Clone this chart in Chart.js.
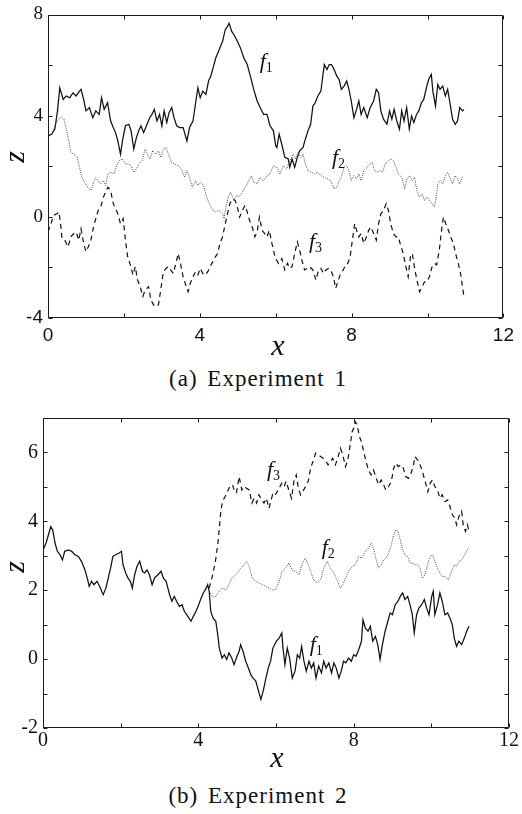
<!DOCTYPE html>
<html><head><meta charset="utf-8">
<script src="https://cdn.jsdelivr.net/npm/chart.js@4/dist/chart.umd.min.js"></script>
<style>
html,body{margin:0;padding:0;background:#fff}
body{width:522px;height:814px;position:relative;overflow:hidden}
.wrap{position:absolute;left:0}
.cap{position:absolute;left:0;width:522px;text-align:center;font-family:"Liberation Serif","Times New Roman",Times,serif;font-size:23px;line-height:26px;color:#111;letter-spacing:1px;word-spacing:3px;white-space:nowrap;box-sizing:border-box;padding-right:6px}
</style></head>
<body>
<div class="wrap" style="top:0"><canvas id="ca" width="522" height="360"></canvas></div>
<div class="cap" style="top:366px">(a) Experiment 1</div>
<div class="wrap" style="top:400px"><canvas id="cb" width="522" height="372"></canvas></div>
<div class="cap" style="top:783px">(b) Experiment 2</div>
<script>
// ---------- data (x, z) ----------
const expA_f1 = [[0,3.2],[0.1,3.27],[0.18,3.47],[0.25,4.19],[0.31,5.1],[0.4,4.64],[0.48,4.78],[0.57,4.71],[0.66,4.9],[0.74,4.78],
[0.83,4.97],[0.87,5.04],[0.94,4.64],[1.0,4.19],[1.09,4.32],[1.18,3.92],[1.26,4.19],[1.35,4.05],[1.41,4.71],[1.48,4.25],
[1.57,4.51],[1.65,3.79],[1.72,3.53],[1.78,3.33],[1.84,3.0],[1.91,2.48],[1.97,3.07],[2.04,3.6],[2.13,3.66],[2.19,3.4],
[2.26,2.68],[2.33,3.14],[2.39,3.4],[2.45,3.6],[2.52,3.33],[2.61,3.66],[2.68,3.92],[2.74,4.05],[2.8,4.25],[2.87,3.79],
[2.94,4.05],[3.0,3.6],[3.06,4.19],[3.13,3.73],[3.19,4.12],[3.26,4.32],[3.32,3.92],[3.39,3.6],[3.47,3.53],[3.56,3.53],
[3.66,3.0],[3.73,3.53],[3.82,3.79],[3.89,4.51],[3.95,5.1],[4.01,4.71],[4.08,4.97],[4.16,4.84],[4.23,5.37],[4.29,5.57],
[4.35,5.89],[4.42,6.28],[4.51,6.61],[4.6,6.94],[4.67,7.4],[4.73,7.53],[4.77,7.66],[4.84,7.33],[4.9,7.2],[4.99,6.94],
[5.07,6.68],[5.16,6.28],[5.25,6.02],[5.33,5.57],[5.42,5.04],[5.51,4.58],[5.59,4.32],[5.68,4.05],[5.77,4.05],[5.85,3.6],
[5.94,3.4],[6.0,2.81],[6.03,2.74],[6.09,3.27],[6.16,2.87],[6.24,2.35],[6.33,2.29],[6.37,1.96],[6.43,2.29],[6.5,1.96],
[6.57,2.35],[6.63,2.61],[6.72,2.74],[6.78,3.07],[6.85,3.4],[6.92,3.66],[6.98,4.38],[7.04,4.51],[7.11,4.78],[7.19,4.97],
[7.24,5.56],[7.28,6.02],[7.35,5.82],[7.41,6.02],[7.47,6.02],[7.54,5.82],[7.61,5.56],[7.67,5.43],[7.73,5.04],[7.8,5.17],
[7.87,5.37],[7.93,5.04],[7.99,4.58],[8.06,3.92],[8.13,4.25],[8.19,4.58],[8.25,4.05],[8.32,4.32],[8.41,3.92],[8.49,4.32],
[8.58,4.58],[8.65,5.04],[8.71,4.91],[8.77,4.19],[8.84,3.86],[8.93,3.66],[9.0,4.19],[9.06,3.86],[9.12,4.25],[9.19,3.79],
[9.26,3.47],[9.32,4.19],[9.38,3.79],[9.45,4.32],[9.52,3.47],[9.58,3.99],[9.64,3.73],[9.71,4.05],[9.77,4.19],[9.84,4.51],
[9.9,4.64],[9.97,5.1],[10.03,5.43],[10.1,5.63],[10.14,4.97],[10.21,4.38],[10.27,5.23],[10.33,5.04],[10.4,5.17],[10.47,4.78],
[10.53,5.04],[10.59,4.51],[10.66,3.86],[10.73,3.66],[10.79,3.79],[10.85,4.32],[10.92,4.19],[10.96,4.25]];

const expA_f2 = [[0,3.14],[0.1,3.27],[0.18,3.6],[0.27,3.86],[0.35,3.95],[0.42,3.86],[0.48,3.47],[0.55,3.0],[0.6,2.55],[0.68,2.48],
[0.77,2.35],[0.83,1.96],[0.89,1.56],[0.96,1.37],[1.05,1.17],[1.13,1.04],[1.2,1.37],[1.26,1.56],[1.32,1.43],[1.39,1.3],
[1.46,1.43],[1.52,1.24],[1.58,1.7],[1.65,1.76],[1.74,1.7],[1.81,2.02],[1.87,2.22],[1.96,2.29],[2.04,2.09],[2.13,2.09],
[2.19,2.02],[2.26,1.76],[2.33,1.89],[2.39,2.09],[2.48,2.22],[2.56,2.68],[2.62,2.48],[2.69,2.29],[2.76,2.61],[2.85,2.48],
[2.91,2.61],[2.97,2.35],[3.04,2.68],[3.11,2.74],[3.17,2.48],[3.26,2.15],[3.34,2.09],[3.43,2.02],[3.52,1.89],[3.6,1.56],
[3.66,1.83],[3.73,1.56],[3.8,1.17],[3.89,1.43],[3.95,1.24],[4.01,1.37],[4.1,1.24],[4.18,0.78],[4.25,0.52],[4.34,0.26],
[4.42,0.19],[4.51,0.26],[4.6,0.13],[4.64,-0.07],[4.68,0.32],[4.75,0.78],[4.81,0.98],[4.9,0.65],[4.97,0.85],[5.03,0.78],
[5.12,0.98],[5.2,1.17],[5.29,1.43],[5.36,1.63],[5.42,1.37],[5.51,1.3],[5.59,1.56],[5.68,1.43],[5.77,1.63],[5.85,1.7],
[5.94,2.02],[6.0,1.96],[6.03,1.96],[6.11,1.7],[6.2,2.02],[6.29,1.89],[6.37,2.22],[6.46,2.48],[6.52,2.29],[6.59,2.55],
[6.66,2.35],[6.72,2.48],[6.78,2.09],[6.85,1.83],[6.94,1.76],[7.02,1.7],[7.11,1.76],[7.19,1.63],[7.28,1.56],[7.37,1.5],
[7.45,1.43],[7.54,1.11],[7.61,1.17],[7.67,1.43],[7.73,1.56],[7.8,1.96],[7.87,2.02],[7.93,1.83],[7.99,1.43],[8.06,1.63],
[8.13,1.5],[8.19,1.7],[8.25,1.43],[8.32,1.83],[8.41,1.96],[8.48,2.09],[8.54,2.15],[8.6,1.83],[8.67,1.76],[8.75,1.83],
[8.82,1.76],[8.88,2.09],[8.97,2.22],[9.03,2.29],[9.1,2.22],[9.17,1.96],[9.23,1.7],[9.32,1.56],[9.4,1.11],[9.46,1.5],
[9.53,1.63],[9.6,1.43],[9.66,1.56],[9.72,1.04],[9.79,0.78],[9.86,0.91],[9.92,0.65],[9.98,0.78],[10.05,0.65],[10.12,0.52],
[10.18,0.39],[10.23,0.78],[10.27,1.3],[10.33,1.43],[10.4,1.3],[10.47,1.63],[10.53,1.76],[10.59,1.56],[10.66,1.3],[10.73,1.63],
[10.79,1.5],[10.85,1.3],[10.92,1.56],[10.96,1.56]];

const expA_f3 = [[0,-0.6],[0.08,-0.27],[0.14,0.05],[0.23,0.12],[0.29,0.19],[0.34,-0.4],[0.37,-0.86],[0.44,-0.92],[0.53,-1.19],[0.6,-0.79],
[0.68,-0.66],[0.74,-0.6],[0.81,-0.92],[0.87,-0.47],[0.94,-1.05],[1.0,-1.38],[1.06,-1.19],[1.13,-0.92],[1.2,-0.4],[1.26,-0.07],
[1.32,0.25],[1.39,0.38],[1.46,0.78],[1.52,0.98],[1.58,1.17],[1.65,1.04],[1.72,0.52],[1.78,0.32],[1.84,0.12],[1.91,-0.27],
[1.98,-0.07],[2.04,-0.92],[2.1,-1.58],[2.17,-1.9],[2.24,-2.3],[2.3,-1.97],[2.36,-2.5],[2.43,-2.76],[2.5,-3.15],[2.56,-2.89],
[2.65,-2.76],[2.71,-3.28],[2.78,-3.48],[2.85,-3.55],[2.91,-3.48],[2.97,-2.89],[3.04,-2.17],[3.11,-2.04],[3.17,-1.97],[3.23,-2.1],
[3.3,-2.24],[3.37,-1.84],[3.43,-1.45],[3.49,-1.84],[3.56,-2.37],[3.63,-2.7],[3.69,-2.96],[3.75,-2.63],[3.82,-2.37],[3.89,-2.17],
[3.95,-2.3],[4.01,-2.04],[4.08,-2.24],[4.15,-2.3],[4.21,-2.17],[4.27,-1.97],[4.34,-1.78],[4.41,-1.58],[4.47,-1.45],[4.53,-1.05],
[4.6,-0.79],[4.67,-0.27],[4.73,0.12],[4.79,0.52],[4.86,0.71],[4.93,0.65],[4.99,0.38],[5.05,-0.01],[5.12,0.25],[5.19,0.45],
[5.25,0.19],[5.31,-0.14],[5.38,-0.4],[5.45,-0.79],[5.51,-0.6],[5.57,-0.01],[5.64,-0.53],[5.71,-0.66],[5.77,-0.79],[5.83,-0.53],
[5.9,-1.05],[5.98,-1.58],[6.07,-1.84],[6.16,-1.65],[6.24,-2.1],[6.31,-1.84],[6.37,-2.04],[6.43,-1.97],[6.5,-1.45],[6.57,-0.99],
[6.63,-1.32],[6.69,-1.71],[6.76,-2.1],[6.83,-2.04],[6.89,-1.97],[6.98,-2.1],[7.06,-2.5],[7.13,-2.1],[7.19,-2.04],[7.26,-2.24],
[7.32,-2.1],[7.39,-2.04],[7.45,-2.1],[7.52,-2.37],[7.58,-2.83],[7.65,-2.5],[7.71,-2.24],[7.78,-2.1],[7.84,-1.9],[7.9,-1.84],
[7.96,-1.58],[8.02,-0.92],[8.08,-0.27],[8.13,-0.53],[8.19,-0.79],[8.25,-0.66],[8.32,-1.05],[8.39,-0.79],[8.45,-0.53],[8.51,-0.4],
[8.58,-0.66],[8.65,-0.92],[8.71,-0.27],[8.77,0.12],[8.84,0.25],[8.91,0.52],[8.97,0.25],[9.03,-0.27],[9.1,-0.66],[9.17,-0.79],
[9.23,-0.79],[9.29,-1.12],[9.36,-1.45],[9.43,-1.97],[9.49,-2.37],[9.55,-1.58],[9.6,-1.45],[9.66,-2.04],[9.72,-2.5],[9.79,-2.96],
[9.86,-2.76],[9.92,-2.57],[9.98,-2.57],[10.05,-2.37],[10.12,-1.97],[10.18,-1.84],[10.24,-1.9],[10.31,-1.32],[10.38,-0.4],[10.42,-0.01],
[10.48,-0.27],[10.55,-0.53],[10.61,-0.79],[10.68,-1.05],[10.75,-1.51],[10.81,-1.84],[10.87,-2.24],[10.92,-2.76],[10.96,-3.15]];

const expB_f1 = [[0,3.17],[0.08,3.37],[0.14,3.61],[0.2,3.85],[0.25,3.75],[0.31,3.37],[0.37,3.13],[0.44,3.03],[0.5,2.88],[0.56,3.13],
[0.65,3.17],[0.74,3.13],[0.82,3.03],[0.91,2.98],[0.99,2.84],[1.08,2.59],[1.14,2.35],[1.19,2.11],[1.25,2.26],[1.31,2.16],
[1.39,2.26],[1.46,2.11],[1.55,1.87],[1.62,2.06],[1.68,2.35],[1.74,2.64],[1.8,2.98],[1.87,3.03],[1.96,3.08],[2.02,3.13],
[2.06,2.74],[2.13,2.5],[2.19,2.35],[2.25,2.26],[2.3,2.06],[2.36,2.45],[2.42,2.69],[2.49,2.84],[2.56,2.55],[2.62,2.5],
[2.68,2.59],[2.74,2.45],[2.81,2.16],[2.87,2.35],[2.96,2.45],[3.04,2.55],[3.1,2.35],[3.17,2.26],[3.26,1.87],[3.32,1.68],
[3.38,1.82],[3.44,1.68],[3.51,1.53],[3.58,1.58],[3.64,1.39],[3.73,1.24],[3.81,1.1],[3.87,1.24],[3.94,1.39],[4.01,1.58],
[4.07,1.77],[4.13,1.92],[4.2,2.06],[4.24,2.16],[4.28,1.97],[4.32,1.39],[4.38,1.19],[4.45,1.1],[4.5,0.71],[4.54,0.32],
[4.61,0.03],[4.67,0.13],[4.73,-0.01],[4.79,0.18],[4.86,0.03],[4.92,-0.16],[4.98,0.03],[5.05,0.23],[5.09,0.42],[5.15,0.23],
[5.22,-0.06],[5.29,-0.26],[5.35,-0.45],[5.41,-0.55],[5.48,-0.64],[5.55,-0.93],[5.61,-1.17],[5.67,-0.93],[5.74,-0.55],[5.8,-0.26],
[5.86,-0.06],[5.92,0.32],[6.01,0.52],[6.08,0.61],[6.15,0.76],[6.18,0.32],[6.23,-0.16],[6.29,0.32],[6.35,0.03],[6.42,-0.55],
[6.49,-0.35],[6.55,0.13],[6.61,0.03],[6.66,0.37],[6.72,-0.06],[6.78,-0.35],[6.85,-0.06],[6.91,-0.26],[6.97,-0.11],[7.03,-0.55],
[7.1,-0.2],[7.17,-0.4],[7.23,-0.06],[7.29,-0.26],[7.36,-0.11],[7.43,-0.4],[7.49,-0.11],[7.55,-0.26],[7.62,-0.55],[7.68,-0.35],
[7.74,-0.06],[7.8,-0.11],[7.87,0.03],[7.94,-0.06],[8.0,0.13],[8.06,0.08],[8.13,0.27],[8.2,0.52],[8.24,1.14],[8.3,0.9],
[8.37,0.81],[8.43,0.95],[8.49,0.52],[8.56,0.66],[8.62,0.42],[8.68,-0.01],[8.74,0.42],[8.81,0.81],[8.88,1.1],[8.94,1.34],
[9.0,1.29],[9.07,1.58],[9.14,1.68],[9.2,1.82],[9.26,1.92],[9.32,1.73],[9.39,1.82],[9.45,1.58],[9.51,1.29],[9.56,0.76],
[9.62,1.29],[9.68,1.48],[9.75,1.58],[9.82,1.73],[9.88,1.48],[9.94,1.29],[10.01,1.82],[10.05,1.97],[10.09,1.29],[10.16,1.58],
[10.22,1.92],[10.28,1.68],[10.35,1.29],[10.42,1.34],[10.48,1.19],[10.54,1.0],[10.59,0.61],[10.65,0.37],[10.71,0.52],[10.78,0.42],
[10.85,0.61],[10.91,0.81],[10.97,0.95]];

const expB_f2 = [[4.28,1.97],[4.37,1.8],[4.45,1.82],[4.54,1.97],[4.62,2.06],[4.71,2.01],[4.79,2.16],[4.86,2.35],[4.92,2.4],[5.01,2.5],
[5.09,2.64],[5.18,2.74],[5.24,2.84],[5.31,2.69],[5.39,2.35],[5.48,2.26],[5.56,2.21],[5.65,2.16],[5.74,2.11],[5.82,2.06],
[5.91,2.01],[5.99,2.01],[6.08,2.26],[6.16,2.55],[6.25,2.64],[6.33,2.79],[6.42,2.59],[6.5,2.55],[6.59,2.45],[6.68,2.79],
[6.76,2.93],[6.83,2.74],[6.89,2.55],[6.97,2.3],[7.06,2.21],[7.15,2.3],[7.23,2.64],[7.32,2.84],[7.4,2.64],[7.49,2.5],
[7.57,2.3],[7.66,2.06],[7.72,2.16],[7.79,2.35],[7.87,2.55],[7.96,2.69],[8.04,2.74],[8.13,2.98],[8.21,2.93],[8.3,3.13],
[8.38,3.22],[8.45,3.37],[8.51,3.22],[8.57,2.93],[8.64,2.64],[8.71,2.74],[8.77,2.88],[8.83,2.93],[8.9,3.08],[8.97,3.32],
[9.03,3.61],[9.09,3.75],[9.14,3.71],[9.2,3.46],[9.26,3.17],[9.32,3.03],[9.39,2.98],[9.45,2.79],[9.51,2.79],[9.58,2.74],
[9.65,2.74],[9.71,2.64],[9.77,2.35],[9.84,2.45],[9.91,2.79],[9.97,2.98],[10.03,3.03],[10.09,2.84],[10.16,2.64],[10.22,2.5],
[10.28,2.4],[10.35,2.4],[10.44,2.3],[10.52,2.55],[10.59,2.74],[10.65,2.69],[10.71,2.84],[10.78,2.88],[10.86,3.03],[10.95,3.22]];

const expB_f3 = [[4.28,2.06],[4.37,2.45],[4.44,2.84],[4.5,3.32],[4.54,3.8],[4.58,4.29],[4.62,4.57],[4.69,4.72],[4.75,4.86],[4.81,5.01],
[4.88,5.06],[4.92,4.91],[4.98,4.82],[5.05,5.3],[5.12,4.91],[5.18,5.01],[5.24,4.96],[5.31,4.91],[5.38,4.53],[5.44,4.67],
[5.5,4.53],[5.56,4.77],[5.63,4.62],[5.69,4.53],[5.75,4.67],[5.82,4.38],[5.91,4.77],[5.95,4.72],[6.01,4.82],[6.08,4.96],
[6.15,5.11],[6.21,5.01],[6.26,5.16],[6.33,4.91],[6.4,4.67],[6.46,5.16],[6.52,5.35],[6.57,5.01],[6.63,4.77],[6.69,4.86],
[6.76,5.01],[6.83,5.16],[6.89,5.54],[6.95,5.73],[7.02,5.98],[7.09,5.93],[7.15,5.88],[7.21,5.83],[7.27,5.78],[7.34,5.64],
[7.4,5.73],[7.46,5.83],[7.53,5.64],[7.6,5.88],[7.66,6.12],[7.72,5.93],[7.79,5.59],[7.85,5.78],[7.91,6.22],[7.96,6.6],
[8.0,6.7],[8.04,6.89],[8.09,6.8],[8.15,6.46],[8.2,6.31],[8.26,6.02],[8.32,5.73],[8.38,5.49],[8.45,5.35],[8.51,5.49],
[8.57,5.3],[8.64,5.06],[8.71,5.2],[8.77,5.06],[8.83,4.91],[8.9,5.01],[8.97,5.16],[9.03,5.54],[9.09,5.69],[9.15,5.59],
[9.22,5.64],[9.28,5.54],[9.34,5.3],[9.41,5.25],[9.48,5.4],[9.54,5.64],[9.58,5.88],[9.65,5.78],[9.71,5.64],[9.77,5.45],
[9.84,5.16],[9.91,4.86],[9.97,5.11],[10.03,5.2],[10.09,5.01],[10.16,4.91],[10.22,4.67],[10.28,4.77],[10.35,4.57],[10.42,4.62],
[10.48,4.43],[10.54,4.19],[10.61,4.09],[10.65,3.9],[10.71,4.14],[10.78,4.29],[10.82,3.9],[10.88,3.71],[10.93,3.9],[10.97,3.71]];

// tick labels
const xTickLabels = [0, 4, 8, 12];
const yTickLabelsA = [8, 4, 0, -4];
const yTickLabelsB = [6, 4, 2, 0, -2];
const seriesNames = ['1', '2', '3'];

const SERIF = '"Liberation Serif", "Times New Roman", Times, serif';
const SANS = '"Liberation Sans", Arial, Helvetica, sans-serif';

// ---------- plugins ----------
const frame = {
  id: 'frame',
  afterDraw(chart, args, o) {
    const {ctx, chartArea: a, scales: {x, y}} = chart;
    const L = Math.round(a.left) + 0.5, R = Math.round(a.right) - 0.5;
    const T = Math.round(a.top) + 0.5, B = Math.round(a.bottom) - 0.5;
    ctx.save();
    ctx.strokeStyle = '#1a1a1a'; ctx.lineWidth = 1;
    ctx.beginPath();
    ctx.rect(L, T, R - L, B - T);
    const tl = 4;
    x.ticks.forEach(t => {
      const p = Math.round(x.getPixelForValue(t.value)) + 0.5;
      ctx.moveTo(p, B); ctx.lineTo(p, B - tl);
      ctx.moveTo(p, T); ctx.lineTo(p, T + tl);
    });
    y.ticks.forEach(t => {
      const p = Math.round(y.getPixelForValue(t.value)) + 0.5;
      ctx.moveTo(L, p); ctx.lineTo(L + tl, p);
      ctx.moveTo(R, p); ctx.lineTo(R - tl, p);
    });
    ctx.stroke();
    // axis titles
    ctx.fillStyle = '#111';
    ctx.font = 'italic 30px ' + SERIF;
    ctx.textAlign = 'center'; ctx.textBaseline = 'alphabetic';
    ctx.fillText('x', o.xTitle[0], o.xTitle[1]);
    ctx.translate(o.zTitle[0], o.zTitle[1]);
    ctx.rotate(-Math.PI / 2);
    ctx.fillText('z', 0, 0);
    ctx.restore();
  }
};

const fLabels = {
  id: 'flabels',
  afterDatasetsDraw(chart, args, o) {
    const {ctx, scales: {x, y}} = chart;
    ctx.save();
    ctx.fillStyle = '#111';
    ctx.textAlign = 'left'; ctx.textBaseline = 'alphabetic';
    o.items.forEach(it => {
      const px = x.getPixelForValue(it.x), py = y.getPixelForValue(it.z);
      ctx.font = 'italic 22px ' + SERIF;
      ctx.fillText('f', px, py);
      ctx.font = '14px ' + SERIF;
      ctx.fillText(it.sub, px + 6, py + 4);
    });
    ctx.restore();
  }
};

function toXY(arr) { return arr.map(p => ({x: p[0], y: p[1]})); }

const solid = {borderColor: '#111', borderWidth: 1.25, borderDash: []};
const dotted = {borderColor: '#4a4a4a', borderWidth: 1, borderDash: [1, 1.2]};
const dashed = {borderColor: '#111', borderWidth: 1.2, borderDash: [5, 4]};

function makeChart(id, sets, cfg) {
  return new Chart(document.getElementById(id), {
    type: 'line',
    data: {
      datasets: sets.map(s => Object.assign({data: toXY(s.data), pointRadius: 0, fill: false, tension: 0}, s.style))
    },
    options: {
      responsive: false, animation: false,
      layout: {padding: cfg.pad},
      plugins: {legend: {display: false}, tooltip: {enabled: false},
        frame: {xTitle: cfg.xTitle, zTitle: cfg.zTitle},
        flabels: {items: cfg.labels}},
      scales: {
        x: {type: 'linear', min: 0, max: 12,
          grid: {display: false, drawTicks: false}, border: {display: false},
          afterFit: s => { s.height = cfg.xh; },
          ticks: {stepSize: 2, padding: cfg.xpad, color: '#111', maxRotation: 0,
            font: {family: cfg.xfont, size: cfg.xsize, lineHeight: 1},
            callback: v => xTickLabels.includes(v) ? String(v) : ''}},
        y: {type: 'linear', min: cfg.ymin, max: cfg.ymax,
          grid: {display: false, drawTicks: false}, border: {display: false},
          afterFit: s => { s.width = cfg.yw; },
          ticks: {stepSize: cfg.ystep, padding: 5, color: '#111',
            font: cfg.yfont,
            callback: v => cfg.ylabels.includes(v) ? String(v) : ''}}
      }
    },
    plugins: [frame, fLabels]
  });
}

makeChart('ca', [
  {data: expA_f2, style: dotted},
  {data: expA_f3, style: dashed},
  {data: expA_f1, style: solid}
], {
  pad: {top: 13, right: 12, left: 0, bottom: 0},
  xh: 42, yw: 48, xpad: 8, xsize: 19, xfont: SANS,
  ymin: -4, ymax: 8, ystep: 2, ylabels: yTickLabelsA,
  yfont: ctx => ({family: (ctx.tick && ctx.tick.value === -4) ? SANS : SERIF, size: 19, lineHeight: 1}),
  xTitle: [278, 355], zTitle: [24, 157],
  labels: [{x: 5.58, z: 5.9, sub: seriesNames[0]}, {x: 7.48, z: 2.1, sub: seriesNames[1]}, {x: 6.88, z: -1.24, sub: seriesNames[2]}]
});

makeChart('cb', [
  {data: expB_f2, style: dotted},
  {data: expB_f3, style: dashed},
  {data: expB_f1, style: solid}
], {
  pad: {top: 18, right: 11, left: 0, bottom: 0},
  xh: 44, yw: 43, xpad: 3, xsize: 20, xfont: SERIF,
  ymin: -2, ymax: 7, ystep: 1, ylabels: yTickLabelsB,
  yfont: {family: SERIF, size: 20, lineHeight: 1},
  xTitle: [277, 367], zTitle: [24, 167],
  labels: [{x: 6.87, z: 0.25, sub: seriesNames[0]}, {x: 7.18, z: 3.06, sub: seriesNames[1]}, {x: 5.77, z: 5.32, sub: seriesNames[2]}]
});
</script>
</body></html>
